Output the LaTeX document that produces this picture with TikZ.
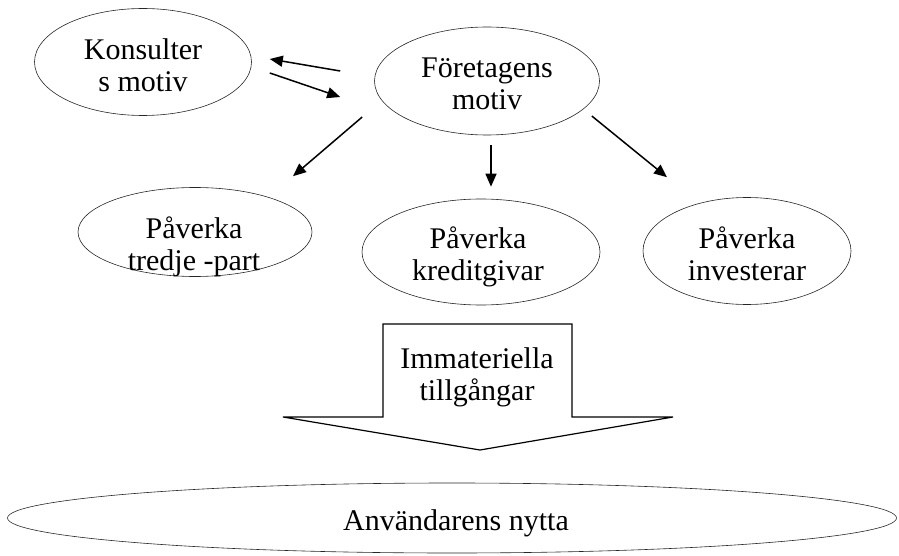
\documentclass[tikz,border=0pt]{standalone}
\usepackage{fontspec}
\setmainfont{Liberation Serif}
\usetikzlibrary{shapes.geometric,arrows.meta}

\begin{document}
\begin{tikzpicture}[x=1pt,y=-1pt,
	oval/.style = {draw=black!85, line width=0.6pt, ellipse, inner sep=0pt},
	txt/.style = {align=center, inner sep=0pt, anchor=base, font=\fontsize{30}{32}\selectfont},
	arr/.style = {-{Triangle[length=13pt,width=11pt]}, line width=1.5pt}]
	\useasboundingbox (0,0) rectangle (899,556);
	% ellipses
	\node[oval, minimum width=217pt, minimum height=107pt] (kons) at (143,62) {};
	\node[oval, minimum width=225pt, minimum height=108pt] (foret) at (487,81) {};
	\node[oval, minimum width=234pt, minimum height=89pt] (tredje) at (195,232) {};
	\node[oval, minimum width=238pt, minimum height=106pt] (kredit) at (481,252) {};
	\node[oval, minimum width=208pt, minimum height=107pt] (invest) at (747,251) {};
	\node[oval, minimum width=889pt, minimum height=70pt] (anv) at (452,518) {};
	% texts (base = last line)
	\node[txt] (konsText) at (143,92) {Konsulter\\s motiv};
	\node[txt] (foretText) at (487,110) {Företagens\\motiv};
	\node[txt] (tredjeText) at (194,270) {Påverka\\tredje -part};
	\node[txt] (kreditText) at (478,280) {Påverka\\kreditgivar};
	\node[txt] (investText) at (747,280) {Påverka\\investerar};
	\node[txt] (anvText) at (456,530) {Användarens nytta};
	% big arrow
	\draw[line width=1.2pt] (383,417) -- (383,324) -- (572,324) -- (572,417)
		-- (673,417) -- (480,450) -- (283,417) -- cycle;
	\node[txt] (immat) at (477,400) {Immateriella\\tillgångar};
	% arrows
	\draw[arr] ([shift={(-34,-10)}]foret.west) -- ([shift={(18,-3)}]kons.east);
	\draw[arr] ([shift={(18,11)}]kons.east) -- ([shift={(-34,16)}]foret.west);
	\draw[arr] ([shift={(-12,36)}]foret.west) -- ([shift={(98,-11)}]tredje.north);
	\draw[arr] ([shift={(4,10)}]foret.south) -- ([shift={(10,-12)}]kredit.north);
	\draw[arr] ([shift={(-8,35)}]foret.east) -- ([shift={(-80,-20)}]invest.north);
\end{tikzpicture}
\end{document}
